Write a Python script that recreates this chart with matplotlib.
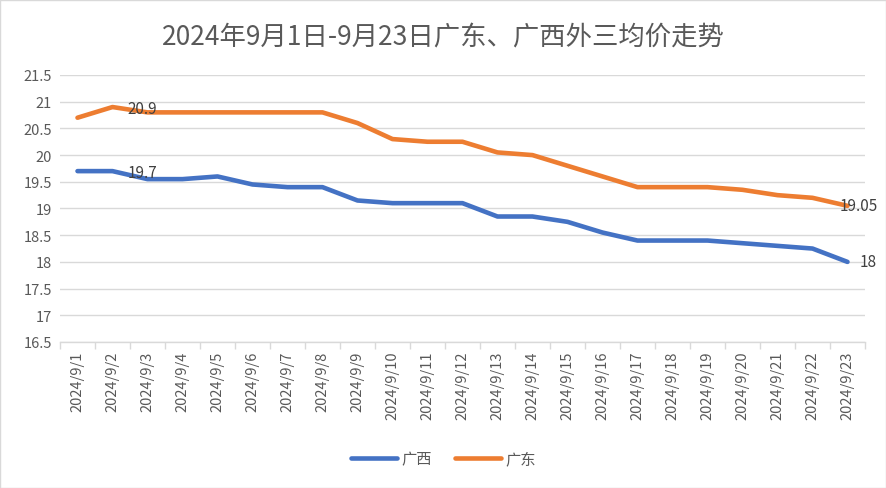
import matplotlib
matplotlib.use("Agg")
import matplotlib.pyplot as plt
from matplotlib.patches import Rectangle

plt.rcParams['font.family'] = ['Noto Sans CJK SC', 'DejaVu Sans']

dates = [f"2024/9/{d}" for d in range(1, 24)]
guangxi = [19.7, 19.7, 19.55, 19.55, 19.6, 19.45, 19.4, 19.4, 19.15, 19.1, 19.1, 19.1,
           18.85, 18.85, 18.75, 18.55, 18.4, 18.4, 18.4, 18.35, 18.3, 18.25, 18.0]
guangdong = [20.7, 20.9, 20.8, 20.8, 20.8, 20.8, 20.8, 20.8, 20.6, 20.3, 20.25, 20.25,
             20.05, 20.0, 19.8, 19.6, 19.4, 19.4, 19.4, 19.35, 19.25, 19.2, 19.05]
title = "2024年9月1日-9月23日广东、广西外三均价走势"

W, H = 887, 489
fig = plt.figure(figsize=(W/100, H/100), dpi=100)
ax = fig.add_axes([60/W, 1-343/H, (865-60)/W, (343-76)/H])

x = list(range(len(dates)))
l1, = ax.plot(x, guangxi, color='#4472C4', lw=3.3, solid_capstyle='round', label='广西')
l2, = ax.plot(x, guangdong, color='#ED7D31', lw=3.3, solid_capstyle='round', label='广东')

lab_col = '#404040'
ax.annotate(f"{guangdong[1]:g}", (1, guangdong[1]), xytext=(11, -1), textcoords='offset points',
            ha='left', va='center', fontsize=11, color=lab_col)
ax.annotate(f"{guangxi[1]:g}", (1, guangxi[1]), xytext=(11, -1), textcoords='offset points',
            ha='left', va='center', fontsize=11, color=lab_col)
ax.annotate(f"{guangdong[-1]:g}", (22, guangdong[-1]), xytext=(-6, 0), textcoords='offset points',
            ha='left', va='center', fontsize=11, color=lab_col)
ax.annotate(f"{guangxi[-1]:g}", (22, guangxi[-1]), xytext=(9, 0), textcoords='offset points',
            ha='left', va='center', fontsize=11, color=lab_col)

ax.set_xlim(-0.5, len(dates)-0.5)
ax.set_ylim(16.5, 21.5)
ax.set_yticks([16.5 + 0.5*i for i in range(11)])
ax.set_yticklabels([f"{16.5 + 0.5*i:g}" for i in range(11)])
ax.yaxis.grid(True, color='#D9D9D9', lw=1)
ax.set_axisbelow(True)
ax.tick_params(axis='y', length=0, labelsize=10.5, labelcolor='#595959', pad=6)

ax.set_xticks(x)
ax.set_xticklabels(dates, rotation=90, fontsize=10.5, color='#595959')
ax.tick_params(axis='x', which='major', length=0, pad=6)
ax.set_xticks([i - 0.5 for i in range(len(dates)+1)], minor=True)
ax.tick_params(axis='x', which='minor', length=5, color='#D9D9D9', width=1)

for s in ['top', 'right', 'left']:
    ax.spines[s].set_visible(False)
ax.spines['bottom'].set_color('#D9D9D9')
ax.spines['bottom'].set_linewidth(1)

fig.text(0.5, 1-38/H, title, ha='center', va='center', fontsize=19, color='#595959')

fig.legend(handles=[l1, l2], loc='center', bbox_to_anchor=(0.5, 1-460/H), ncol=2,
           frameon=False, fontsize=11, labelcolor='#595959', handlelength=3,
           columnspacing=1.5, handletextpad=0.3)

fig.patches.append(Rectangle((0.5/W, 0.5/H), 1-1/W, 1-1/H, transform=fig.transFigure,
                             fill=False, edgecolor='#D9D9D9', lw=1))

fig.savefig('out.png', dpi=100)
